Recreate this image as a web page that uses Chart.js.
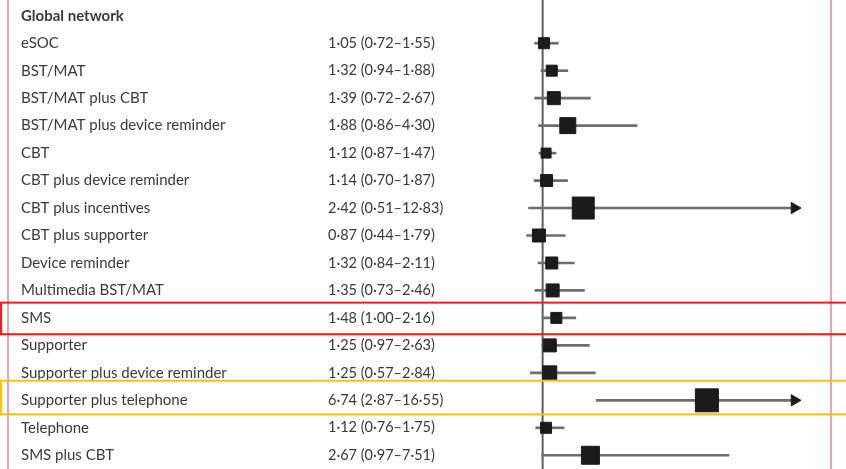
<!DOCTYPE html>
<html>
<head>
<meta charset="utf-8">
<script src="https://cdn.jsdelivr.net/npm/chart.js@4"></script>
<style>
  html, body { margin: 0; padding: 0; background: #fff; }
</style>
</head>
<body>
<canvas id="forest" width="846" height="469"></canvas>
<script>
// Global network, odds ratio (95% CI)
const heading = 'Global network';
const interventions = [
    'eSOC', 'BST/MAT', 'BST/MAT plus CBT', 'BST/MAT plus device reminder', 'CBT',
    'CBT plus device reminder', 'CBT plus incentives', 'CBT plus supporter', 'Device reminder',
    'Multimedia BST/MAT', 'SMS', 'Supporter', 'Supporter plus device reminder',
    'Supporter plus telephone', 'Telephone', 'SMS plus CBT'
];
const estimate = [1.05, 1.32, 1.39, 1.88, 1.12, 1.14, 2.42, 0.87, 1.32, 1.35, 1.48, 1.25, 1.25, 6.74, 1.12, 2.67];
const lower    = [0.72, 0.94, 0.72, 0.86, 0.87, 0.70, 0.51, 0.44, 0.84, 0.73, 1.00, 0.97, 0.57, 2.87, 0.76, 0.97];
const upper    = [1.55, 1.88, 2.67, 4.30, 1.47, 1.87, 12.83, 1.79, 2.11, 2.46, 2.16, 2.63, 2.84, 16.55, 1.75, 7.51];
// CIs running past this value are cut and get an arrow
const axisCut = 9.8;

// square size per row (px)
const boxSizes = [12, 12, 14, 17, 11, 13, 23, 14, 13, 14, 12, 14, 15, 24, 12, 19];

const fmt = v => v.toFixed(2).replace('.', '\u00b7');
const rowLabels = [heading, ...interventions];
const estLabels = ['', ...interventions.map((_, i) =>
    `${fmt(estimate[i])} (${fmt(lower[i])}\u2013${fmt(upper[i])})`)];

const FONT = 'Lato, "Noto Sans", sans-serif';
const TEXT = '#3a3a3a';

// reference line at 1, frame and highlight boxes
const decorations = {
    id: 'decorations',
    beforeDatasetsDraw(chart) {
        const { ctx, scales: { x } } = chart;
        const px = x.getPixelForValue(1);
        ctx.save();
        ctx.strokeStyle = '#5c5c5c';
        ctx.lineWidth = 2;
        ctx.beginPath();
        ctx.moveTo(px, 0);
        ctx.lineTo(px, chart.height);
        ctx.stroke();
        ctx.restore();
    },
    afterDraw(chart) {
        const { ctx, scales: { y } } = chart;
        ctx.save();
        // pink frame
        ctx.strokeStyle = '#e9a2b6';
        ctx.lineWidth = 2;
        [8, 831].forEach(px => {
            ctx.beginPath();
            ctx.moveTo(px, 0);
            ctx.lineTo(px, chart.height);
            ctx.stroke();
        });
        // highlighted rows
        const boxes = [
            { row: 'SMS', color: '#ff1a1a', up: 15.3, down: 16.3 },
            { row: 'Supporter plus telephone', color: '#ffc20e', up: 19.6, down: 14 }
        ];
        boxes.forEach(b => {
            const cy = y.getPixelForValue(rowLabels.indexOf(b.row));
            ctx.strokeStyle = b.color;
            ctx.lineWidth = 2;
            ctx.strokeRect(1, cy - b.up, 860, b.up + b.down);
        });
        ctx.restore();
    }
};

const labelAxis = (labels, width, weight, size, bold) => ({
    type: 'category',
    labels: labels,
    position: 'left',
    weight: weight,
    offset: true,
    grid: { display: false },
    border: { display: false },
    ticks: {
        crossAlign: 'far',
        padding: 0,
        autoSkip: false,
        color: TEXT,
        font: (c) => ({ family: FONT, size: size, weight: (bold && c.index === 0) ? 'bold' : 'normal' })
    },
    afterFit: (scale) => {
        scale.width = width;
        scale.paddingTop = 0;
        scale.paddingBottom = 0;
    }
});

new Chart(document.getElementById('forest'), {
    type: 'bar',
    data: {
        datasets: [
            {
                type: 'bar',
                indexAxis: 'y',
                xAxisID: 'x',
                yAxisID: 'y',
                data: interventions.map((name, i) => ({ y: name, x: [lower[i], Math.min(upper[i], axisCut)] })),
                backgroundColor: '#6e6e6e',
                barThickness: 2,
                borderWidth: 0,
                order: 3
            },
            {
                type: 'scatter',
                xAxisID: 'x',
                yAxisID: 'y',
                data: interventions.map((name, i) => ({ x: estimate[i], y: name })),
                pointStyle: 'rect',
                pointRadius: boxSizes.map(s => (s - 1) / Math.SQRT2),
                backgroundColor: '#1b1b1b',
                borderColor: '#1b1b1b',
                borderWidth: 1,
                order: 1
            },
            {
                type: 'scatter',
                xAxisID: 'x',
                yAxisID: 'y',
                data: interventions
                    .filter((_, i) => upper[i] > axisCut)
                    .map(name => ({ x: axisCut, y: name })),
                pointStyle: 'triangle',
                rotation: 90,
                pointRadius: 6.5,
                backgroundColor: '#1b1b1b',
                borderColor: '#1b1b1b',
                borderWidth: 1,
                order: 2
            }
        ]
    },
    options: {
        responsive: false,
        animation: false,
        events: [],
        layout: { autoPadding: false, padding: { left: 21, top: 2, right: 0, bottom: 0 } },
        plugins: {
            legend: { display: false },
            tooltip: { enabled: false }
        },
        scales: {
            x: { type: 'linear', min: 0, max: 11.6, offset: false, display: false },
            y: labelAxis(rowLabels, 307, 2, 15, true),
            yEst: labelAxis(estLabels, 186, 1, 14.5, false)
        }
    },
    plugins: [decorations]
});
</script>
</body>
</html>
